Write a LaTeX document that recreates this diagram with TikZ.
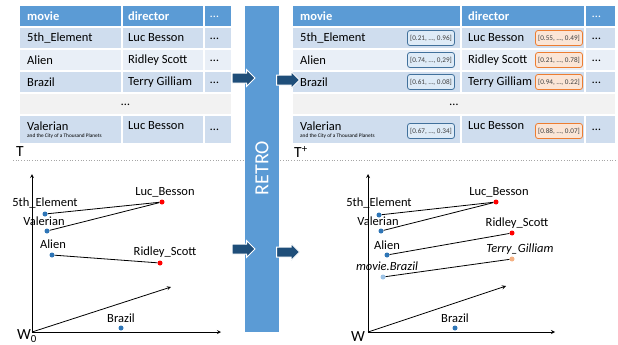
\documentclass[tikz,border=0pt]{standalone}
\usepackage{fontspec}
\setmainfont{Carlito}
\usetikzlibrary{
		positioning,
		shapes.arrows,
		arrows.meta
	}
\definecolor{hdrblue}{HTML}{5B9BD5}
\definecolor{rowdark}{HTML}{CFDDEE}
\definecolor{rowlight}{HTML}{E9EFF7}
\definecolor{rowgray}{HTML}{F2F2F2}
\definecolor{arrowblue}{HTML}{1F4E79}
\definecolor{ptblue}{HTML}{2E75B6}
\definecolor{ptred}{HTML}{FF0000}
\definecolor{ptlblue}{HTML}{9DC3E6}
\definecolor{ptorange}{HTML}{F4B183}
\definecolor{vecfill}{HTML}{DEEBF7}
\definecolor{vecdraw}{HTML}{41719C}
\definecolor{embfill}{HTML}{FBE5D6}
\definecolor{embdraw}{HTML}{ED7D31}
\tikzset{
		>=stealth
	}

\begin{document}
\begin{tikzpicture}[x=1pt, y=-1pt,
		txt/.style={anchor=west, inner sep=0pt, font=\fontsize{12.5}{14}\selectfont},
		hdr/.style={txt, text=white, font=\fontsize{12.5}{14}\selectfont\bfseries},
		tiny/.style={anchor=west, inner sep=0pt, font=\fontsize{5.3}{6}\selectfont},
		vecbox/.style={draw=vecdraw, fill=vecfill, rounded corners=2.5pt, line width=0.8pt, minimum width=47pt, minimum height=15pt, inner sep=0pt, text=black!75, font=\fontsize{7.2}{8}\selectfont},
		embbox/.style={vecbox, draw=embdraw, fill=embfill},
		blockarrow/.style={single arrow, fill=arrowblue, draw=white, line width=1pt, minimum height=23pt, single arrow head extend=3.5pt, inner xsep=0pt, inner ysep=4.5pt},
		pt/.style={circle, fill=ptblue, inner sep=0pt, minimum size=5pt},
		redpt/.style={pt, fill=ptred},
		lbl/.style={inner sep=0pt, font=\fontsize{12.5}{14}\selectfont},
		big/.style={inner sep=0pt, font=\fontsize{15.5}{17}\selectfont},
		link/.style={line width=0.8pt},
		axis/.style={->, line width=0.8pt}]
		\useasboundingbox (0,0) rectangle (618,345);

		% separator
		\draw[gray!70, dotted, line width=0.7pt] (13,160) -- (618,160);

		% left table T
		\foreach \ya/\yb/\c in {6/26/hdrblue, 28/48/rowdark, 50/70/rowlight, 72/92/rowdark, 116/143/rowdark} {
			\fill[\c] (20,\ya) rectangle (121,\yb);
			\fill[\c] (122.5,\ya) rectangle (203,\yb);
			\fill[\c] (204.5,\ya) rectangle (231,\yb);
		}
		\fill[rowgray] (20,94) rectangle (231,114);
		\node[hdr] (lmovie) at (27,16) {movie};
		\node[hdr] (ldir) at (128,16) {director};
		\node[txt, text=white] (ldots) at (210,17) {…};
		\node[txt] (lm1) at (27,38) {5th\_Element};
		\node[txt] (ld1) at (128,38) {Luc Besson};
		\node[txt] (lm2) at (27,60) {Alien};
		\node[txt] (ld2) at (128,60) {Ridley Scott};
		\node[txt] (lm3) at (27,82) {Brazil};
		\node[txt] (ld3) at (128,82) {Terry Gilliam};
		\node[txt] (lm5) at (27,126) {Valerian};
		\node[tiny] (lm5sub) at (27,136.5) {and the City of a Thousand Planets};
		\node[txt] (ld5) at (128,126) {Luc Besson};
		\foreach \y [count=\i] in {39,61,83,130} {
			\node[txt] (le\i) at (210,\y) {…};
		}
		\node[lbl] (lrow4) at (125.5,105) {…};
		\node[big, anchor=west] (tlab) at (16,152) {T};

		% right table T+
		\foreach \ya/\yb/\c in {6/26/hdrblue, 28/48/rowdark, 50/70/rowlight, 72/92/rowdark, 116/143/rowdark} {
			\fill[\c] (293,\ya) rectangle (460,\yb);
			\fill[\c] (462,\ya) rectangle (584,\yb);
			\fill[\c] (586,\ya) rectangle (615,\yb);
		}
		\fill[rowgray] (293,94) rectangle (615,114);
		\node[hdr] (rmovie) at (300,16) {movie};
		\node[hdr] (rdir) at (468,16) {director};
		\node[txt, text=white] (rdots) at (592,17) {…};
		\node[txt] (rm1) at (300,38) {5th\_Element};
		\node[txt] (rd1) at (468,38) {Luc Besson};
		\node[txt] (rm2) at (300,60) {Alien};
		\node[txt] (rd2) at (468,60) {Ridley Scott};
		\node[txt] (rm3) at (300,82) {Brazil};
		\node[txt] (rd3) at (468,82) {Terry Gilliam};
		\node[txt] (rm5) at (300,126) {Valerian};
		\node[tiny] (rm5sub) at (300,136.5) {and the City of a Thousand Planets};
		\node[txt] (rd5) at (468,126) {Luc Besson};
		\foreach \y [count=\i] in {39,61,83,130} {
			\node[txt] (re\i) at (592,\y) {…};
		}
		\node[lbl] (rrow4) at (454,105) {…};
		\node[vecbox] (v1) at (431,38) {[0.21, …, 0.96]};
		\node[vecbox] (v2) at (431,60) {[0.74, …, 0,29]};
		\node[vecbox] (v3) at (431,82) {[0.61, …, 0.08]};
		\node[vecbox] (v5) at (431,131) {[0.67, …, 0.34]};
		\node[embbox] (e1) at (559,38) {[0.55, …, 0.49]};
		\node[embbox] (e2) at (559,60) {[0.21, …, 0.78]};
		\node[embbox] (e3) at (559,82) {[0.94, …, 0.22]};
		\node[embbox] (e5) at (559,131) {[0.88, …, 0.07]};
		\node[big, anchor=west] (tplab) at (294,152) {T\textsuperscript{+}};

		% RETRO bar and arrows
		\fill[hdrblue] (245,6) rectangle (279,332);
		\node[rotate=90, text=white, inner sep=0pt, font=\fontsize{20}{22}\selectfont] (retro) at (262,168) {RETRO};
		\node[blockarrow] (ain1) at (241,78) {};
		\node[blockarrow] (aout1) at (285.5,80) {};
		\node[blockarrow] (ain2) at (241,249) {};
		\node[blockarrow] (aout2) at (285.5,252) {};

		% left space W0
		\coordinate (lo) at (32,332);
		\draw[axis] (lo) -- (32,174);
		\draw[axis] (lo) -- (221,332);
		\node[big] (w0) at (27,336) {W\textsubscript{0}};
		\node[pt] (l5th) at (45,214) {};
		\node[pt] (lval) at (47,231) {};
		\node[pt] (lali) at (52,255) {};
		\node[redpt] (lluc) at (162,202) {};
		\node[redpt] (lrid) at (160,263) {};
		\node[pt] (lbra) at (121,328) {};
		\node[lbl] (l5thlab) at (45,203) {5th\_Element};
		\node[lbl] (lvallab) at (44,221) {Valerian};
		\node[lbl] (lalilab) at (53,244) {Alien};
		\node[lbl] (lluclab) at (165,192) {Luc\_Besson};
		\node[lbl] (lridlab) at (165,252) {Ridley\_Scott};
		\node[lbl] (lbralab) at (121,318) {Brazil};
		\draw[link] (l5th) -- (lluc);
		\draw[link] (lval) -- (lluc);
		\draw[link] (lali) -- (lrid);
		\draw[axis] (lo) -- (171,287);

		% right space W
		\coordinate (ro) at (368,332);
		\draw[axis] (ro) -- (368,174);
		\draw[axis] (ro) -- (555,332);
		\node[big] (w) at (358,337) {W};
		\node[pt] (r5th) at (379,215) {};
		\node[pt] (rval) at (381,231) {};
		\node[pt] (rali) at (387,255) {};
		\node[pt, fill=ptlblue] (rmbra) at (383,277) {};
		\node[redpt] (rluc) at (496,202) {};
		\node[redpt] (rrid) at (512,233) {};
		\node[pt, fill=ptorange] (rter) at (512,259) {};
		\node[pt] (rbra) at (455,328) {};
		\node[lbl] (r5thlab) at (379,203) {5th\_Element};
		\node[lbl] (rvallab) at (378,221) {Valerian};
		\node[lbl] (ralilab) at (387,245) {Alien};
		\node[lbl, font=\fontsize{12.5}{14}\selectfont\itshape] (rmbralab) at (387,266) {movie.Brazil};
		\node[lbl] (rluclab) at (499,192) {Luc\_Besson};
		\node[lbl] (rridlab) at (517,223) {Ridley\_Scott};
		\node[lbl, font=\fontsize{12.5}{14}\selectfont\itshape] (rterlab) at (520,249) {Terry\_Gilliam};
		\node[lbl] (rbralab) at (455,318) {Brazil};
		\draw[link] (r5th) -- (rluc);
		\draw[link] (rval) -- (rluc);
		\draw[link] (rali) -- (rrid);
		\draw[link] (rmbra) -- (rter);
		\draw[axis] (ro) -- (506,286);
	\end{tikzpicture}
\end{document}
